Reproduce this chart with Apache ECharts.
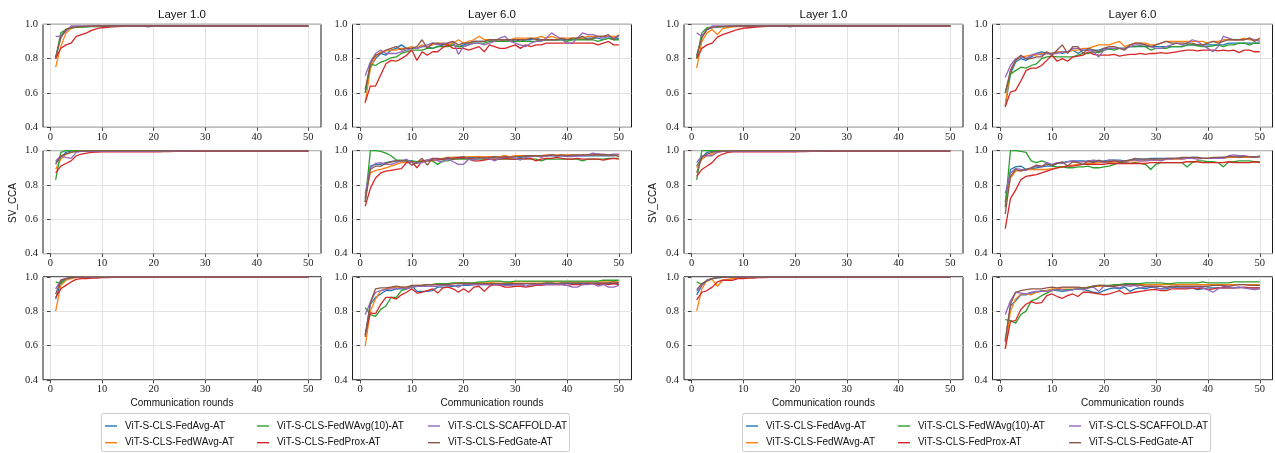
<!DOCTYPE html>
<html>
<head>
<meta charset="utf-8">
<script src="https://cdn.jsdelivr.net/npm/echarts@6.0.0/dist/echarts.min.js"></script>
<style>html,body{margin:0;padding:0;background:#fff}#c{width:1275px;height:453px}</style>
</head>
<body>
<div id="c"></div>
<script>
const rounds = [1,2,3,4,5,6,7,8,9,10,11,12,13,14,15,16,17,18,19,20,21,22,23,24,25,26,27,28,29,30,31,32,33,34,35,36,37,38,39,40,41,42,43,44,45,46,47,48,49,50];
const seriesNames = ['ViT-S-CLS-FedAvg-AT','ViT-S-CLS-FedWAvg-AT','ViT-S-CLS-FedWAvg(10)-AT','ViT-S-CLS-FedProx-AT','ViT-S-CLS-SCAFFOLD-AT','ViT-S-CLS-FedGate-AT'];
const layerTitles = ['Layer 1.0','Layer 6.0'];
const yTicks = [0.4,0.6,0.8,1.0];
const xTicks = [0,10,20,30,40,50];

// ---------- Left figure, row 1, Layer 1.0 ----------
const L1a_avg = [0.80,0.93,0.97,0.98,0.984,0.986,0.987,0.988,0.988,0.989,
0.989,0.99,0.99,0.99,0.99,0.99,0.99,0.99,0.99,0.99,
0.99,0.99,0.99,0.99,0.99,0.99,0.99,0.99,0.99,0.99,
0.99,0.99,0.99,0.99,0.99,0.99,0.99,0.99,0.99,0.99,
0.99,0.99,0.99,0.99,0.99,0.99,0.99,0.99,0.99,0.988];
const L1a_wavg = [0.75,0.87,0.95,0.975,0.985,0.987,0.988,0.989,0.99,0.99,
0.99,0.99,0.99,0.99,0.99,0.99,0.99,0.99,0.99,0.99,
0.99,0.99,0.99,0.99,0.99,0.99,0.99,0.99,0.99,0.99,
0.99,0.99,0.99,0.99,0.99,0.99,0.99,0.99,0.99,0.99,
0.99,0.99,0.99,0.99,0.99,0.99,0.99,0.99,0.99,0.99];
const L1a_w10 = [0.80,0.95,0.97,0.98,0.982,0.984,0.985,0.986,0.987,0.988,
0.989,0.989,0.99,0.99,0.99,0.99,0.99,0.99,0.99,0.99,
0.99,0.99,0.99,0.99,0.99,0.99,0.99,0.99,0.99,0.99,
0.99,0.99,0.99,0.99,0.99,0.99,0.99,0.99,0.99,0.99,
0.99,0.99,0.99,0.99,0.99,0.99,0.99,0.99,0.99,0.99];
const L1a_prox = [0.80,0.86,0.88,0.89,0.93,0.94,0.95,0.965,0.975,0.98,
0.982,0.985,0.987,0.988,0.989,0.99,0.99,0.99,0.99,0.99,
0.99,0.99,0.99,0.99,0.99,0.99,0.99,0.99,0.99,0.99,
0.99,0.99,0.99,0.99,0.99,0.99,0.99,0.99,0.99,0.99,
0.99,0.99,0.99,0.99,0.99,0.99,0.99,0.99,0.99,0.99];
const L1a_scaf = [0.93,0.93,0.96,0.99,0.99,0.99,0.99,0.99,0.99,0.99,
0.99,0.99,0.99,0.99,0.99,0.99,0.99,0.99,0.985,0.99,
0.99,0.99,0.99,0.99,0.99,0.99,0.99,0.99,0.99,0.99,
0.99,0.99,0.99,0.99,0.99,0.99,0.99,0.99,0.99,0.99,
0.99,0.99,0.99,0.99,0.99,0.99,0.99,0.99,0.99,0.99];
const L1a_gate = [0.81,0.92,0.97,0.98,0.985,0.987,0.988,0.989,0.99,0.99,
0.99,0.99,0.99,0.99,0.99,0.99,0.99,0.99,0.99,0.99,
0.99,0.99,0.99,0.99,0.99,0.99,0.99,0.99,0.99,0.99,
0.99,0.99,0.99,0.99,0.99,0.99,0.99,0.99,0.99,0.99,
0.99,0.99,0.99,0.99,0.99,0.99,0.99,0.99,0.99,0.99];

// ---------- Left figure, row 1, Layer 6.0 ----------
const L1b_avg = [0.60,0.75,0.80,0.83,0.82,0.85,0.86,0.88,0.86,0.86,
0.86,0.87,0.87,0.86,0.87,0.88,0.88,0.88,0.87,0.88,
0.89,0.90,0.90,0.90,0.91,0.90,0.90,0.91,0.90,0.91,
0.90,0.91,0.91,0.92,0.91,0.91,0.91,0.91,0.91,0.91,
0.91,0.92,0.92,0.92,0.92,0.92,0.91,0.92,0.91,0.92];
const L1b_wavg = [0.54,0.74,0.81,0.84,0.845,0.85,0.85,0.86,0.86,0.87,
0.86,0.88,0.87,0.88,0.89,0.89,0.88,0.89,0.91,0.89,
0.90,0.91,0.93,0.91,0.91,0.91,0.91,0.91,0.91,0.92,
0.92,0.92,0.92,0.92,0.93,0.92,0.93,0.92,0.92,0.92,
0.92,0.92,0.92,0.93,0.93,0.93,0.93,0.93,0.93,0.93];
const L1b_w10 = [0.60,0.77,0.76,0.78,0.79,0.805,0.81,0.83,0.84,0.85,
0.85,0.85,0.86,0.86,0.87,0.87,0.87,0.88,0.87,0.87,
0.88,0.89,0.89,0.89,0.90,0.90,0.90,0.90,0.90,0.90,
0.90,0.90,0.90,0.90,0.91,0.91,0.91,0.91,0.91,0.90,
0.91,0.91,0.91,0.91,0.91,0.90,0.91,0.92,0.91,0.91];
const L1b_prox = [0.545,0.64,0.64,0.705,0.77,0.79,0.785,0.80,0.82,0.85,
0.79,0.84,0.82,0.84,0.84,0.865,0.88,0.86,0.86,0.86,
0.85,0.86,0.87,0.84,0.88,0.87,0.86,0.86,0.87,0.88,
0.86,0.88,0.87,0.88,0.88,0.89,0.89,0.89,0.89,0.89,
0.89,0.89,0.89,0.89,0.89,0.88,0.89,0.90,0.88,0.88];
const L1b_scaf = [0.70,0.78,0.83,0.85,0.83,0.83,0.83,0.84,0.85,0.86,
0.86,0.87,0.88,0.89,0.88,0.89,0.89,0.90,0.825,0.87,
0.88,0.89,0.89,0.88,0.89,0.90,0.92,0.93,0.90,0.89,
0.88,0.87,0.89,0.90,0.90,0.92,0.95,0.93,0.91,0.89,
0.89,0.92,0.95,0.94,0.94,0.93,0.92,0.93,0.92,0.93];
const L1b_gate = [0.62,0.77,0.82,0.83,0.85,0.86,0.87,0.85,0.86,0.86,
0.87,0.91,0.86,0.89,0.89,0.88,0.89,0.90,0.88,0.89,
0.89,0.90,0.90,0.90,0.91,0.91,0.91,0.91,0.91,0.91,
0.91,0.91,0.92,0.91,0.91,0.91,0.91,0.91,0.92,0.91,
0.92,0.92,0.93,0.91,0.92,0.93,0.93,0.94,0.91,0.94];

// ---------- Left figure, row 2, Layer 1.0 ----------
const L2a_avg = [0.93,0.96,0.99,0.997,0.998,0.998,0.998,0.998,0.998,0.998,
0.998,0.998,0.998,0.998,0.998,0.998,0.998,0.998,0.998,0.998,
0.998,0.998,0.998,0.998,0.998,0.998,0.998,0.998,0.998,0.998,
0.998,0.998,0.998,0.998,0.998,0.998,0.998,0.998,0.998,0.998,
0.998,0.998,0.998,0.998,0.998,0.998,0.998,0.998,0.998,0.998];
const L2a_wavg = [0.89,0.95,0.98,0.99,0.995,0.997,0.998,0.998,0.998,0.998,
0.998,0.998,0.998,0.998,0.998,0.998,0.998,0.998,0.998,0.998,
0.998,0.998,0.998,0.998,0.998,0.998,0.998,0.998,0.998,0.998,
0.998,0.998,0.998,0.998,0.998,0.998,0.998,0.998,0.998,0.998,
0.998,0.998,0.998,0.998,0.998,0.998,0.998,0.998,0.998,0.998];
const L2a_w10 = [0.83,0.99,1.0,1.0,0.999,0.999,0.999,0.999,0.999,0.999,
0.999,0.999,0.999,0.999,0.999,0.999,0.999,0.999,0.999,0.999,
0.999,0.999,0.999,0.999,0.999,0.999,0.999,0.999,0.999,0.999,
0.999,0.999,0.999,0.999,0.999,0.999,0.999,0.999,0.999,0.999,
0.999,0.999,0.999,0.999,0.999,0.999,0.999,0.999,0.999,0.999];
const L2a_prox = [0.87,0.91,0.925,0.94,0.97,0.98,0.985,0.99,0.991,0.992,
0.992,0.993,0.993,0.993,0.993,0.993,0.993,0.993,0.993,0.993,
0.993,0.994,0.994,0.995,0.995,0.996,0.996,0.996,0.997,0.997,
0.997,0.997,0.997,0.997,0.997,0.997,0.997,0.997,0.997,0.997,
0.997,0.997,0.997,0.997,0.997,0.997,0.997,0.997,0.997,0.997];
const L2a_scaf = [0.94,0.97,0.96,0.955,0.99,0.995,0.996,0.996,0.996,0.996,
0.996,0.996,0.996,0.996,0.996,0.996,0.996,0.996,0.996,0.996,
0.996,0.996,0.997,0.997,0.997,0.997,0.998,0.998,0.998,0.998,
0.998,0.998,0.998,0.998,0.998,0.998,0.998,0.998,0.998,0.998,
0.998,0.998,0.998,0.998,0.998,0.998,0.998,0.998,0.998,0.998];
const L2a_gate = [0.92,0.97,0.98,0.99,0.995,0.997,0.998,0.998,0.998,0.998,
0.998,0.998,0.998,0.998,0.998,0.998,0.998,0.998,0.998,0.998,
0.998,0.998,0.998,0.998,0.998,0.998,0.998,0.998,0.998,0.998,
0.998,0.998,0.998,0.998,0.998,0.998,0.998,0.998,0.998,0.998,
0.998,0.998,0.998,0.998,0.998,0.998,0.998,0.998,0.998,0.998];

// ---------- Left figure, row 2, Layer 6.0 ----------
const L2b_avg = [0.72,0.91,0.92,0.92,0.93,0.935,0.94,0.94,0.94,0.94,
0.93,0.94,0.945,0.95,0.95,0.95,0.955,0.96,0.96,0.965,
0.96,0.96,0.965,0.96,0.96,0.96,0.965,0.965,0.965,0.965,
0.96,0.965,0.965,0.97,0.97,0.97,0.97,0.97,0.97,0.97,
0.97,0.97,0.97,0.97,0.97,0.97,0.97,0.97,0.97,0.975];
const L2b_wavg = [0.73,0.87,0.885,0.89,0.90,0.91,0.92,0.93,0.93,0.935,
0.935,0.94,0.945,0.95,0.95,0.955,0.96,0.96,0.96,0.96,
0.965,0.965,0.965,0.965,0.965,0.965,0.965,0.97,0.965,0.97,
0.97,0.97,0.97,0.97,0.97,0.975,0.975,0.975,0.975,0.975,
0.975,0.975,0.975,0.975,0.975,0.975,0.975,0.975,0.975,0.975];
const L2b_w10 = [0.70,1.0,1.0,0.995,0.985,0.97,0.945,0.945,0.94,0.94,
0.935,0.935,0.94,0.94,0.92,0.94,0.94,0.95,0.95,0.95,
0.95,0.95,0.95,0.95,0.95,0.95,0.95,0.95,0.95,0.95,
0.955,0.955,0.95,0.95,0.94,0.95,0.95,0.95,0.95,0.95,
0.95,0.95,0.94,0.95,0.95,0.95,0.95,0.955,0.955,0.955];
const L2b_prox = [0.675,0.78,0.84,0.87,0.88,0.885,0.89,0.895,0.93,0.935,
0.90,0.94,0.94,0.945,0.945,0.95,0.95,0.955,0.96,0.96,
0.95,0.94,0.94,0.945,0.95,0.95,0.95,0.955,0.95,0.95,
0.95,0.95,0.955,0.94,0.95,0.955,0.955,0.96,0.955,0.95,
0.95,0.955,0.95,0.95,0.95,0.95,0.945,0.95,0.955,0.95];
const L2b_scaf = [0.75,0.90,0.925,0.93,0.92,0.92,0.93,0.94,0.95,0.93,
0.925,0.93,0.945,0.955,0.94,0.935,0.95,0.935,0.92,0.92,
0.95,0.945,0.955,0.96,0.955,0.94,0.955,0.96,0.96,0.955,
0.945,0.96,0.965,0.97,0.96,0.97,0.975,0.97,0.97,0.965,
0.965,0.97,0.97,0.975,0.985,0.98,0.98,0.975,0.98,0.98];
const L2b_gate = [0.70,0.89,0.91,0.91,0.925,0.935,0.94,0.94,0.94,0.915,
0.93,0.955,0.915,0.955,0.955,0.95,0.96,0.95,0.955,0.955,
0.955,0.955,0.96,0.955,0.96,0.965,0.96,0.965,0.96,0.965,
0.965,0.97,0.97,0.97,0.97,0.97,0.975,0.97,0.975,0.97,
0.975,0.975,0.975,0.975,0.975,0.98,0.975,0.975,0.975,0.965];

// ---------- Left figure, row 3, Layer 1.0 ----------
const L3a_avg = [0.87,0.97,0.99,0.995,0.997,0.998,0.998,0.998,0.998,0.998,
0.998,0.998,0.998,0.998,0.998,0.998,0.998,0.998,0.998,0.998,
0.998,0.998,0.998,0.998,0.998,0.998,0.998,0.998,0.998,0.998,
0.998,0.998,0.998,0.998,0.998,0.998,0.998,0.998,0.998,0.998,
0.998,0.998,0.998,0.998,0.998,0.998,0.998,0.998,0.998,0.998];
const L3a_wavg = [0.80,0.95,0.98,0.99,0.995,0.997,0.998,0.998,0.998,0.998,
0.998,0.998,0.998,0.998,0.998,0.998,0.998,0.998,0.998,0.998,
0.998,0.998,0.998,0.998,0.998,0.998,0.998,0.998,0.998,0.998,
0.998,0.998,0.998,0.998,0.998,0.998,0.998,0.998,0.998,0.998,
0.998,0.998,0.998,0.998,0.998,0.998,0.998,0.998,0.998,0.998];
const L3a_w10 = [0.97,0.96,0.99,0.995,0.998,0.998,0.998,0.998,0.998,0.998,
0.998,0.998,0.998,0.998,0.998,0.998,0.998,0.998,0.998,0.998,
0.998,0.998,0.998,0.998,0.998,0.998,0.998,0.998,0.998,0.998,
0.998,0.998,0.998,0.998,0.998,0.998,0.998,0.998,0.998,0.998,
0.998,0.998,0.998,0.998,0.998,0.998,0.998,0.998,0.998,0.998];
const L3a_prox = [0.88,0.93,0.95,0.97,0.985,0.99,0.99,0.992,0.993,0.995,
0.996,0.997,0.997,0.997,0.997,0.997,0.997,0.997,0.997,0.997,
0.997,0.997,0.997,0.997,0.997,0.997,0.997,0.997,0.997,0.997,
0.997,0.997,0.997,0.997,0.997,0.997,0.997,0.997,0.997,0.997,
0.997,0.997,0.997,0.997,0.997,0.997,0.997,0.997,0.997,0.997];
const L3a_scaf = [0.93,0.98,0.99,0.995,0.998,0.998,0.998,0.998,0.998,0.998,
0.998,0.998,0.998,0.998,0.998,0.998,0.998,0.998,0.998,0.998,
0.998,0.998,0.998,0.998,0.998,0.998,0.998,0.998,0.998,0.998,
0.998,0.998,0.998,0.998,0.998,0.998,0.998,0.998,0.998,0.998,
0.998,0.998,0.998,0.998,0.998,0.998,0.998,0.998,0.998,0.998];
const L3a_gate = [0.90,0.98,0.99,0.995,0.998,0.998,0.998,0.998,0.998,0.998,
0.998,0.998,0.998,0.998,0.998,0.998,0.998,0.998,0.998,0.998,
0.998,0.998,0.998,0.998,0.998,0.998,0.998,0.998,0.998,0.998,
0.998,0.998,0.998,0.998,0.998,0.998,0.998,0.998,0.998,0.998,
0.998,0.998,0.998,0.998,0.998,0.998,0.998,0.998,0.998,0.998];

// ---------- Left figure, row 3, Layer 6.0 ----------
const L3b_avg = [0.66,0.84,0.88,0.90,0.92,0.92,0.93,0.93,0.93,0.95,
0.915,0.915,0.915,0.92,0.94,0.94,0.94,0.945,0.95,0.95,
0.95,0.955,0.955,0.955,0.955,0.955,0.955,0.955,0.955,0.955,
0.955,0.96,0.96,0.96,0.96,0.96,0.96,0.96,0.96,0.96,
0.96,0.96,0.96,0.96,0.96,0.96,0.96,0.96,0.96,0.96];
const L3b_wavg = [0.595,0.80,0.87,0.92,0.93,0.935,0.94,0.94,0.94,0.945,
0.95,0.95,0.955,0.955,0.96,0.96,0.96,0.96,0.965,0.965,
0.965,0.965,0.965,0.965,0.965,0.97,0.97,0.97,0.965,0.97,
0.97,0.97,0.97,0.97,0.97,0.97,0.97,0.97,0.97,0.97,
0.97,0.97,0.97,0.97,0.97,0.97,0.97,0.97,0.97,0.97];
const L3b_w10 = [0.82,0.78,0.77,0.81,0.83,0.88,0.88,0.92,0.93,0.94,
0.945,0.95,0.955,0.955,0.96,0.96,0.96,0.965,0.965,0.965,
0.965,0.965,0.97,0.97,0.975,0.975,0.975,0.97,0.97,0.975,
0.975,0.975,0.975,0.975,0.975,0.975,0.975,0.975,0.975,0.975,
0.975,0.975,0.975,0.975,0.975,0.975,0.98,0.98,0.98,0.98];
const L3b_prox = [0.66,0.79,0.785,0.84,0.88,0.88,0.87,0.895,0.91,0.93,
0.905,0.91,0.92,0.93,0.905,0.935,0.94,0.93,0.91,0.93,
0.91,0.94,0.945,0.915,0.945,0.955,0.95,0.94,0.94,0.945,
0.945,0.94,0.945,0.95,0.95,0.955,0.955,0.955,0.955,0.95,
0.955,0.955,0.955,0.96,0.96,0.955,0.96,0.955,0.96,0.955];
const L3b_scaf = [0.78,0.85,0.91,0.92,0.925,0.93,0.93,0.935,0.93,0.94,
0.945,0.945,0.945,0.945,0.945,0.95,0.95,0.95,0.94,0.955,
0.955,0.955,0.955,0.955,0.955,0.955,0.955,0.95,0.95,0.955,
0.955,0.945,0.955,0.955,0.955,0.955,0.955,0.955,0.955,0.95,
0.94,0.94,0.955,0.955,0.96,0.945,0.955,0.94,0.94,0.95];
const L3b_gate = [0.65,0.85,0.93,0.935,0.935,0.94,0.945,0.94,0.94,0.95,
0.95,0.95,0.955,0.955,0.955,0.955,0.955,0.96,0.96,0.96,
0.96,0.96,0.96,0.96,0.96,0.96,0.96,0.96,0.96,0.96,
0.96,0.96,0.96,0.96,0.96,0.965,0.965,0.96,0.965,0.965,
0.965,0.965,0.965,0.965,0.965,0.965,0.965,0.965,0.97,0.965];

// ---------- Right figure, row 1, Layer 1.0 ----------
const R1a_avg = [0.81,0.93,0.97,0.98,0.985,0.987,0.988,0.989,0.99,0.99,
0.99,0.99,0.99,0.99,0.99,0.99,0.99,0.99,0.99,0.99,
0.99,0.99,0.99,0.99,0.99,0.99,0.99,0.99,0.99,0.99,
0.99,0.99,0.99,0.99,0.99,0.99,0.99,0.99,0.99,0.99,
0.99,0.99,0.99,0.99,0.99,0.99,0.99,0.99,0.99,0.99];
const R1a_wavg = [0.745,0.90,0.95,0.97,0.94,0.975,0.98,0.985,0.987,0.988,
0.989,0.99,0.99,0.99,0.99,0.99,0.99,0.99,0.99,0.99,
0.99,0.99,0.99,0.99,0.99,0.99,0.99,0.99,0.99,0.99,
0.99,0.99,0.99,0.99,0.99,0.99,0.99,0.99,0.99,0.99,
0.99,0.99,0.99,0.99,0.99,0.99,0.99,0.99,0.99,0.99];
const R1a_w10 = [0.80,0.95,0.98,0.983,0.985,0.986,0.987,0.988,0.989,0.99,
0.99,0.99,0.99,0.99,0.99,0.99,0.99,0.99,0.99,0.99,
0.99,0.99,0.99,0.99,0.99,0.99,0.99,0.99,0.99,0.99,
0.99,0.99,0.99,0.99,0.99,0.99,0.99,0.99,0.99,0.99,
0.99,0.99,0.99,0.99,0.99,0.99,0.99,0.99,0.99,0.99];
const R1a_prox = [0.80,0.86,0.88,0.89,0.925,0.94,0.95,0.96,0.97,0.977,
0.98,0.982,0.985,0.987,0.988,0.989,0.99,0.99,0.99,0.99,
0.99,0.99,0.99,0.99,0.99,0.99,0.99,0.99,0.99,0.99,
0.99,0.99,0.99,0.99,0.99,0.99,0.99,0.99,0.99,0.99,
0.99,0.99,0.99,0.99,0.99,0.99,0.99,0.99,0.99,0.99];
const R1a_scaf = [0.95,0.93,0.97,0.99,0.99,0.99,0.99,0.99,0.99,0.99,
0.99,0.99,0.99,0.99,0.99,0.99,0.99,0.99,0.985,0.99,
0.99,0.99,0.99,0.99,0.99,0.99,0.99,0.99,0.99,0.99,
0.99,0.99,0.99,0.99,0.99,0.99,0.99,0.99,0.99,0.99,
0.99,0.99,0.99,0.99,0.99,0.99,0.99,0.99,0.99,0.99];
const R1a_gate = [0.82,0.92,0.97,0.98,0.985,0.987,0.988,0.989,0.99,0.99,
0.99,0.99,0.99,0.99,0.99,0.99,0.99,0.99,0.99,0.99,
0.99,0.99,0.99,0.99,0.99,0.99,0.99,0.99,0.99,0.99,
0.99,0.99,0.99,0.99,0.99,0.99,0.99,0.99,0.99,0.99,
0.99,0.99,0.99,0.99,0.99,0.99,0.99,0.99,0.99,0.99];

// ---------- Right figure, row 1, Layer 6.0 ----------
const R1b_avg = [0.52,0.71,0.78,0.80,0.79,0.81,0.83,0.84,0.83,0.83,
0.84,0.83,0.84,0.85,0.83,0.85,0.85,0.85,0.85,0.86,
0.86,0.86,0.86,0.86,0.87,0.87,0.87,0.87,0.87,0.87,
0.87,0.87,0.87,0.87,0.87,0.88,0.88,0.88,0.88,0.88,
0.88,0.88,0.88,0.89,0.89,0.89,0.89,0.89,0.89,0.89];
const R1b_wavg = [0.53,0.73,0.79,0.81,0.815,0.82,0.82,0.83,0.83,0.83,
0.84,0.84,0.84,0.85,0.85,0.86,0.86,0.87,0.88,0.88,
0.88,0.89,0.90,0.87,0.88,0.89,0.89,0.89,0.88,0.88,
0.89,0.90,0.90,0.90,0.90,0.90,0.90,0.90,0.90,0.89,
0.90,0.90,0.91,0.91,0.91,0.91,0.92,0.91,0.91,0.91];
const R1b_w10 = [0.60,0.71,0.73,0.75,0.745,0.76,0.77,0.80,0.81,0.815,
0.81,0.81,0.81,0.81,0.82,0.83,0.83,0.84,0.835,0.85,
0.855,0.85,0.86,0.86,0.87,0.87,0.875,0.87,0.85,0.86,
0.86,0.86,0.87,0.87,0.87,0.88,0.88,0.875,0.87,0.87,
0.875,0.88,0.87,0.88,0.88,0.89,0.89,0.88,0.89,0.89];
const R1b_prox = [0.52,0.605,0.615,0.67,0.73,0.745,0.745,0.76,0.79,0.82,
0.785,0.80,0.785,0.81,0.815,0.82,0.84,0.825,0.82,0.82,
0.82,0.825,0.815,0.82,0.825,0.825,0.83,0.825,0.83,0.83,
0.835,0.83,0.835,0.84,0.845,0.85,0.85,0.845,0.85,0.85,
0.85,0.845,0.85,0.845,0.85,0.835,0.85,0.85,0.84,0.84];
const R1b_scaf = [0.69,0.76,0.80,0.81,0.80,0.82,0.83,0.82,0.83,0.83,
0.83,0.84,0.84,0.86,0.86,0.85,0.85,0.84,0.81,0.85,
0.86,0.86,0.86,0.86,0.87,0.88,0.88,0.88,0.87,0.86,
0.86,0.87,0.88,0.89,0.88,0.89,0.91,0.90,0.88,0.86,
0.84,0.87,0.93,0.92,0.91,0.91,0.91,0.92,0.91,0.90];
const R1b_gate = [0.60,0.73,0.79,0.82,0.80,0.80,0.81,0.81,0.84,0.82,
0.85,0.88,0.83,0.87,0.87,0.83,0.86,0.85,0.84,0.86,
0.87,0.87,0.86,0.85,0.88,0.89,0.89,0.88,0.87,0.88,
0.89,0.90,0.89,0.89,0.89,0.89,0.89,0.88,0.88,0.89,
0.90,0.89,0.90,0.91,0.91,0.91,0.91,0.92,0.90,0.92];

// ---------- Right figure, row 2, Layer 1.0 ----------
const R2a_avg = [0.91,0.96,0.99,0.995,0.997,0.998,0.998,0.998,0.998,0.998,
0.998,0.998,0.998,0.998,0.998,0.998,0.998,0.998,0.998,0.998,
0.998,0.998,0.998,0.998,0.998,0.998,0.998,0.998,0.998,0.998,
0.998,0.998,0.998,0.998,0.998,0.998,0.998,0.998,0.998,0.998,
0.998,0.998,0.998,0.998,0.998,0.998,0.998,0.998,0.998,0.998];
const R2a_wavg = [0.90,0.95,0.97,0.98,0.99,0.995,0.997,0.998,0.998,0.998,
0.998,0.998,0.998,0.998,0.998,0.998,0.998,0.998,0.998,0.998,
0.998,0.998,0.998,0.998,0.998,0.998,0.998,0.998,0.998,0.998,
0.998,0.998,0.998,0.998,0.998,0.998,0.998,0.998,0.998,0.998,
0.998,0.998,0.998,0.998,0.998,0.998,0.998,0.998,0.998,0.998];
const R2a_w10 = [0.83,1.0,1.0,0.999,0.999,0.999,0.999,0.999,0.999,0.999,
0.999,0.999,0.999,0.999,0.999,0.999,0.999,0.999,0.999,0.999,
0.999,0.999,0.999,0.999,0.999,0.999,0.999,0.999,0.999,0.999,
0.999,0.999,0.999,0.999,0.999,0.999,0.999,0.999,0.999,0.999,
0.999,0.999,0.999,0.999,0.999,0.999,0.999,0.999,0.999,0.999];
const R2a_prox = [0.85,0.89,0.91,0.93,0.965,0.98,0.99,0.992,0.993,0.993,
0.993,0.993,0.993,0.993,0.993,0.993,0.993,0.993,0.993,0.993,
0.994,0.994,0.995,0.995,0.996,0.996,0.996,0.997,0.997,0.997,
0.997,0.997,0.997,0.997,0.997,0.997,0.997,0.997,0.997,0.997,
0.997,0.997,0.997,0.997,0.997,0.997,0.997,0.997,0.997,0.997];
const R2a_scaf = [0.93,0.97,0.97,0.97,0.99,0.995,0.996,0.996,0.996,0.996,
0.996,0.996,0.996,0.996,0.996,0.996,0.996,0.996,0.996,0.996,
0.996,0.997,0.997,0.997,0.997,0.998,0.998,0.998,0.998,0.998,
0.998,0.998,0.998,0.998,0.998,0.998,0.998,0.998,0.998,0.998,
0.998,0.998,0.998,0.998,0.998,0.998,0.998,0.998,0.998,0.998];
const R2a_gate = [0.87,0.96,0.98,0.99,0.995,0.997,0.998,0.998,0.998,0.998,
0.998,0.998,0.998,0.998,0.998,0.998,0.998,0.998,0.998,0.998,
0.998,0.998,0.998,0.998,0.998,0.998,0.998,0.998,0.998,0.998,
0.998,0.998,0.998,0.998,0.998,0.998,0.998,0.998,0.998,0.998,
0.998,0.998,0.998,0.998,0.998,0.998,0.998,0.998,0.998,0.998];

// ---------- Right figure, row 2, Layer 6.0 ----------
const R2b_avg = [0.70,0.89,0.905,0.91,0.89,0.895,0.90,0.905,0.91,0.91,
0.925,0.93,0.935,0.94,0.94,0.94,0.935,0.935,0.935,0.94,
0.945,0.945,0.945,0.94,0.945,0.95,0.95,0.95,0.955,0.955,
0.955,0.955,0.955,0.955,0.955,0.955,0.96,0.96,0.955,0.955,
0.955,0.96,0.96,0.96,0.96,0.965,0.965,0.965,0.965,0.965];
const R2b_wavg = [0.68,0.84,0.88,0.885,0.89,0.89,0.89,0.89,0.89,0.895,
0.90,0.905,0.91,0.915,0.92,0.92,0.925,0.925,0.93,0.93,
0.93,0.935,0.935,0.935,0.94,0.94,0.94,0.94,0.945,0.945,
0.945,0.95,0.95,0.95,0.95,0.955,0.955,0.955,0.955,0.955,
0.955,0.955,0.955,0.96,0.96,0.96,0.96,0.96,0.96,0.96];
const R2b_w10 = [0.67,1.0,1.0,0.995,0.99,0.94,0.93,0.94,0.93,0.91,
0.905,0.905,0.90,0.90,0.905,0.905,0.91,0.90,0.90,0.905,
0.91,0.92,0.93,0.93,0.925,0.93,0.925,0.92,0.89,0.92,
0.93,0.93,0.93,0.93,0.93,0.905,0.93,0.94,0.94,0.935,
0.935,0.93,0.905,0.935,0.935,0.94,0.94,0.94,0.935,0.935];
const R2b_prox = [0.545,0.72,0.77,0.83,0.85,0.855,0.86,0.87,0.88,0.89,
0.90,0.905,0.91,0.91,0.915,0.92,0.92,0.92,0.92,0.92,
0.925,0.925,0.925,0.925,0.925,0.925,0.925,0.925,0.93,0.93,
0.93,0.93,0.93,0.93,0.93,0.935,0.935,0.935,0.93,0.93,
0.93,0.93,0.93,0.935,0.93,0.93,0.93,0.93,0.935,0.93];
const R2b_scaf = [0.75,0.87,0.895,0.89,0.885,0.90,0.91,0.905,0.93,0.92,
0.93,0.925,0.935,0.94,0.935,0.935,0.94,0.945,0.94,0.93,
0.945,0.945,0.94,0.935,0.945,0.945,0.94,0.94,0.945,0.945,
0.94,0.95,0.95,0.955,0.95,0.955,0.955,0.95,0.955,0.955,
0.955,0.955,0.955,0.97,0.975,0.97,0.97,0.965,0.96,0.965];
const R2b_gate = [0.63,0.85,0.89,0.88,0.89,0.90,0.915,0.91,0.92,0.915,
0.925,0.935,0.91,0.935,0.93,0.92,0.94,0.93,0.945,0.935,
0.935,0.94,0.935,0.94,0.945,0.955,0.95,0.95,0.95,0.95,
0.95,0.955,0.955,0.955,0.96,0.96,0.96,0.96,0.955,0.955,
0.96,0.96,0.96,0.965,0.965,0.96,0.965,0.965,0.96,0.97];

// ---------- Right figure, row 3, Layer 1.0 ----------
const R3a_avg = [0.895,0.95,0.98,0.99,0.995,0.997,0.998,0.998,0.998,0.998,
0.998,0.998,0.998,0.998,0.998,0.998,0.998,0.998,0.998,0.998,
0.998,0.998,0.998,0.998,0.998,0.998,0.998,0.998,0.998,0.998,
0.998,0.998,0.998,0.998,0.998,0.998,0.998,0.998,0.998,0.998,
0.998,0.998,0.998,0.998,0.998,0.998,0.998,0.998,0.998,0.998];
const R3a_wavg = [0.80,0.93,0.98,0.985,0.945,0.98,0.985,0.99,0.993,0.995,
0.997,0.997,0.997,0.997,0.997,0.997,0.997,0.997,0.997,0.997,
0.997,0.997,0.997,0.997,0.997,0.997,0.997,0.997,0.997,0.997,
0.997,0.997,0.997,0.997,0.997,0.997,0.997,0.997,0.997,0.997,
0.997,0.997,0.997,0.997,0.997,0.997,0.997,0.997,0.997,0.997];
const R3a_w10 = [0.97,0.955,0.98,0.99,0.995,0.997,0.998,0.998,0.998,0.998,
0.998,0.998,0.998,0.998,0.998,0.998,0.998,0.998,0.998,0.998,
0.998,0.998,0.998,0.998,0.998,0.998,0.998,0.998,0.998,0.998,
0.998,0.998,0.998,0.998,0.998,0.998,0.998,0.998,0.998,0.998,
0.998,0.998,0.998,0.998,0.998,0.998,0.998,0.998,0.998,0.998];
const R3a_prox = [0.865,0.91,0.92,0.94,0.97,0.98,0.98,0.98,0.99,0.99,
0.992,0.993,0.995,0.996,0.997,0.997,0.997,0.997,0.997,0.997,
0.997,0.997,0.997,0.997,0.997,0.997,0.997,0.997,0.997,0.997,
0.997,0.997,0.997,0.997,0.997,0.997,0.997,0.997,0.997,0.997,
0.997,0.997,0.997,0.997,0.997,0.997,0.997,0.997,0.997,0.997];
const R3a_scaf = [0.915,0.95,0.98,0.99,0.995,0.997,0.998,0.998,0.998,0.998,
0.998,0.998,0.998,0.998,0.998,0.998,0.998,0.998,0.998,0.998,
0.998,0.998,0.998,0.998,0.998,0.998,0.998,0.998,0.998,0.998,
0.998,0.998,0.998,0.998,0.998,0.998,0.998,0.998,0.998,0.998,
0.998,0.998,0.998,0.998,0.998,0.998,0.998,0.998,0.998,0.998];
const R3a_gate = [0.925,0.96,0.975,0.99,0.995,0.997,0.998,0.998,0.998,0.998,
0.998,0.998,0.998,0.998,0.998,0.998,0.998,0.998,0.998,0.998,
0.998,0.998,0.998,0.998,0.998,0.998,0.998,0.998,0.998,0.998,
0.998,0.998,0.998,0.998,0.998,0.998,0.998,0.998,0.998,0.998,
0.998,0.998,0.998,0.998,0.998,0.998,0.998,0.998,0.998,0.998];

// ---------- Right figure, row 3, Layer 6.0 ----------
const R3b_avg = [0.62,0.83,0.86,0.895,0.895,0.905,0.91,0.92,0.92,0.925,
0.92,0.915,0.92,0.925,0.93,0.925,0.92,0.91,0.905,0.92,
0.93,0.935,0.93,0.94,0.915,0.93,0.935,0.93,0.94,0.935,
0.93,0.93,0.94,0.935,0.935,0.935,0.935,0.925,0.93,0.935,
0.935,0.935,0.935,0.935,0.935,0.94,0.935,0.935,0.935,0.935];
const R3b_wavg = [0.58,0.80,0.87,0.90,0.90,0.895,0.91,0.915,0.92,0.93,
0.93,0.935,0.935,0.935,0.935,0.935,0.94,0.945,0.945,0.945,
0.945,0.95,0.955,0.955,0.955,0.955,0.955,0.955,0.955,0.955,
0.955,0.955,0.955,0.955,0.955,0.955,0.955,0.955,0.955,0.955,
0.955,0.955,0.955,0.955,0.955,0.955,0.955,0.955,0.955,0.955];
const R3b_w10 = [0.75,0.745,0.73,0.78,0.80,0.86,0.87,0.89,0.905,0.92,
0.925,0.925,0.925,0.925,0.93,0.93,0.94,0.945,0.95,0.95,
0.95,0.955,0.955,0.96,0.96,0.96,0.96,0.965,0.965,0.965,
0.965,0.96,0.96,0.965,0.965,0.965,0.965,0.965,0.97,0.965,
0.965,0.965,0.965,0.965,0.97,0.97,0.97,0.97,0.97,0.97];
const R3b_prox = [0.58,0.74,0.745,0.81,0.84,0.855,0.845,0.85,0.89,0.90,
0.885,0.875,0.89,0.90,0.885,0.91,0.91,0.905,0.90,0.895,
0.90,0.91,0.92,0.90,0.905,0.91,0.915,0.92,0.925,0.925,
0.92,0.92,0.93,0.93,0.93,0.93,0.935,0.93,0.935,0.925,
0.93,0.935,0.935,0.935,0.935,0.935,0.94,0.935,0.935,0.935];
const R3b_scaf = [0.78,0.86,0.91,0.905,0.90,0.91,0.915,0.915,0.915,0.92,
0.925,0.925,0.92,0.925,0.93,0.925,0.935,0.94,0.915,0.945,
0.945,0.94,0.935,0.95,0.945,0.95,0.935,0.94,0.945,0.935,
0.93,0.94,0.94,0.945,0.94,0.935,0.94,0.94,0.935,0.925,
0.91,0.93,0.945,0.94,0.935,0.94,0.935,0.93,0.925,0.93];
const R3b_gate = [0.63,0.84,0.91,0.92,0.925,0.93,0.93,0.93,0.935,0.94,
0.935,0.94,0.94,0.94,0.94,0.935,0.935,0.945,0.95,0.95,
0.945,0.945,0.95,0.955,0.955,0.955,0.95,0.945,0.945,0.945,
0.945,0.94,0.945,0.945,0.945,0.945,0.945,0.945,0.945,0.945,
0.95,0.95,0.95,0.945,0.95,0.955,0.955,0.95,0.95,0.95];

// ---------- layout / style ----------
const COLORS = ['#1f77b4','#ff7f0e','#2ca02c','#d62728','#9467bd','#8c564b'];
const colLeft = [43, 352.5, 684, 992.5];
const colWidth = [278, 279, 279, 280];
const rowTop = [24.3, 150.6, 276.8];
const plotH = 103;

const panels = [
  {row:0,col:0,data:[L1a_avg,L1a_wavg,L1a_w10,L1a_prox,L1a_scaf,L1a_gate]},
  {row:0,col:1,data:[L1b_avg,L1b_wavg,L1b_w10,L1b_prox,L1b_scaf,L1b_gate]},
  {row:1,col:0,data:[L2a_avg,L2a_wavg,L2a_w10,L2a_prox,L2a_scaf,L2a_gate]},
  {row:1,col:1,data:[L2b_avg,L2b_wavg,L2b_w10,L2b_prox,L2b_scaf,L2b_gate]},
  {row:2,col:0,data:[L3a_avg,L3a_wavg,L3a_w10,L3a_prox,L3a_scaf,L3a_gate]},
  {row:2,col:1,data:[L3b_avg,L3b_wavg,L3b_w10,L3b_prox,L3b_scaf,L3b_gate]},
  {row:0,col:2,data:[R1a_avg,R1a_wavg,R1a_w10,R1a_prox,R1a_scaf,R1a_gate]},
  {row:0,col:3,data:[R1b_avg,R1b_wavg,R1b_w10,R1b_prox,R1b_scaf,R1b_gate]},
  {row:1,col:2,data:[R2a_avg,R2a_wavg,R2a_w10,R2a_prox,R2a_scaf,R2a_gate]},
  {row:1,col:3,data:[R2b_avg,R2b_wavg,R2b_w10,R2b_prox,R2b_scaf,R2b_gate]},
  {row:2,col:2,data:[R3a_avg,R3a_wavg,R3a_w10,R3a_prox,R3a_scaf,R3a_gate]},
  {row:2,col:3,data:[R3b_avg,R3b_wavg,R3b_w10,R3b_prox,R3b_scaf,R3b_gate]}
];

const tickFont = {fontFamily:'Liberation Serif', fontSize:10.5, color:'#1a1a1a'};
const gridLine = {show:true, lineStyle:{color:'#dcdcdc', width:0.8}};

const grid = [], xAxis = [], yAxis = [], series = [];
panels.forEach((p, i) => {
  grid.push({left:colLeft[p.col], top:rowTop[p.row], width:colWidth[p.col], height:plotH,
    show:true, borderColor:'#1a1a1a', borderWidth:1, backgroundColor:'transparent', containLabel:false});
  xAxis.push({type:'value', gridIndex:i, min:-1.45, max:52.45, splitNumber:5,
    axisLine:{show:false},
    axisTick:{show:true, length:3.5, customValues:xTicks, lineStyle:{color:'#1a1a1a', width:0.8}},
    axisLabel:Object.assign({margin:4, customValues:xTicks}, tickFont),
    splitLine:gridLine});
  yAxis.push({type:'value', gridIndex:i, min:0.4, max:1.0, interval:0.2,
    axisLine:{show:false},
    axisTick:{show:true, length:3.5, lineStyle:{color:'#1a1a1a', width:0.8}},
    axisLabel:Object.assign({margin:5, formatter:v => v.toFixed(1)}, tickFont),
    splitLine:gridLine});
  p.data.forEach((arr, s) => {
    series.push({type:'line', name:seriesNames[s], xAxisIndex:i, yAxisIndex:i,
      data:rounds.map((r,k)=>[r, arr[k]]), symbol:'none', showSymbol:false,
      lineStyle:{width:1.3, color:COLORS[s]}, itemStyle:{color:COLORS[s]},
      emphasis:{disabled:true}, silent:true, animation:false});
  });
});

const graphic = [];
const sansFont = 'Liberation Sans';
[0,1,2,3].forEach(c => {
  const cx = colLeft[c] + colWidth[c]/2;
  graphic.push({type:'text', x:cx, y:15, style:{text:layerTitles[c%2], font:'11.5px "'+sansFont+'"', fill:'#111', textAlign:'center', textVerticalAlign:'middle'}});
  graphic.push({type:'text', x:cx, y:403, style:{text:'Communication rounds', font:'10px "'+sansFont+'"', fill:'#111', textAlign:'center', textVerticalAlign:'middle'}});
});
[13.5, 653.5].forEach(x => {
  graphic.push({type:'text', x:x, y:203, rotation:Math.PI/2, style:{text:'SV_CCA', font:'10px "'+sansFont+'"', fill:'#111', textAlign:'center', textVerticalAlign:'middle'}});
});
[101.5, 742.5].forEach(x => {
  graphic.push({type:'rect', z:0, shape:{x:x, y:413.5, width:468, height:38, r:2}, style:{fill:'#fff', stroke:'#cccccc', lineWidth:1}});
});

const legendCols = [[0,1],[2,3],[4,5]];
const legendX = [105, 257, 428];
const legend = [];
[0, 641].forEach(off => {
  legendCols.forEach((idx, j) => {
    legend.push({orient:'vertical', left:legendX[j]+off, top:420, padding:0,
      icon:'rect', itemWidth:12, itemHeight:1.4, itemGap:4.7, selectedMode:false,
      data:idx.map(k => seriesNames[k]),
      textStyle:{fontFamily:sansFont, fontSize:10, lineHeight:12, color:'#111', padding:[0,0,0,3]}});
  });
});

const chart = echarts.init(document.getElementById('c'), null, {renderer:'canvas'});
chart.setOption({animation:false, backgroundColor:'#fff', color:COLORS, grid, xAxis, yAxis, series, legend, graphic});
</script>
</body>
</html>
